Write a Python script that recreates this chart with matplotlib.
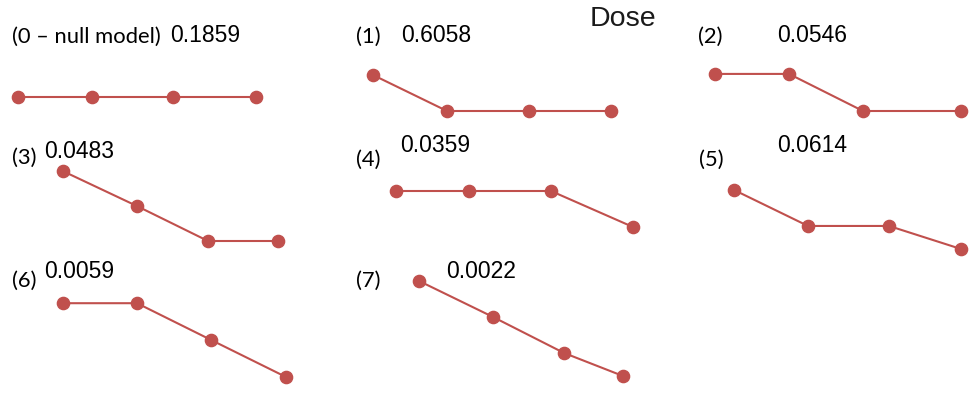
import matplotlib
matplotlib.use("Agg")
import matplotlib.pyplot as plt

# ---- data ----
model_labels = ["(0 – null model)", "(1)", "(2)", "(3)", "(4)", "(5)", "(6)", "(7)"]
model_probs = ["0.1859", "0.6058", "0.0546", "0.0483", "0.0359", "0.0614", "0.0059", "0.0022"]
# relative dose positions of the four dose groups in each panel
dose_x = [
    [0, 74, 155, 238],
    [0, 74, 156, 238],
    [0, 74, 148, 246],
    [0, 74, 145, 215],
    [0, 73, 155, 237],
    [0, 74, 155, 227],
    [0, 74, 148, 223],
    [0, 74, 145, 204],
]
# response level (height above the lowest level) for each dose group
response = [
    [0, 0, 0, 0],
    [1, 0, 0, 0],
    [1.03, 1.03, 0, 0],
    [1.94, 0.97, 0, 0],
    [1, 1, 1, 0],
    [1.64, 0.64, 0.64, 0],
    [2.05, 2.05, 1.03, 0],
    [2.64, 1.64, 0.64, 0],
]
title = "Dose"

# ---- layout (pixels) ----
W, H = 972, 393
anchor_x = [18, 373, 715, 63, 396, 734, 63, 419]
base_y = [97, 111, 111, 241, 227, 249, 377, 376]
unit = 36
label_pos = [(12, 37), (356, 37), (698, 37), (12, 158), (356, 160), (699, 160), (12, 281), (356, 281)]
prob_pos = [(170, 36), (401, 35), (777, 35), (44, 151), (400, 146), (777, 146), (44, 272), (446, 272)]
red = "#C0504D"

fig = plt.figure(figsize=(W / 100, H / 100), dpi=100)
ax = fig.add_axes([0, 0, 1, 1])
ax.set_xlim(0, W)
ax.set_ylim(H, 0)
ax.axis("off")

for i in range(len(model_labels)):
    xs = [anchor_x[i] + d for d in dose_x[i]]
    ys = [base_y[i] - unit * r for r in response[i]]
    ax.plot(xs, ys, color=red, lw=1.5, marker="o", ms=8.8, mfc=red, mec=red,
            solid_capstyle="round")
    lx, ly = label_pos[i]
    ax.text(lx, ly, model_labels[i], ha="left", va="center", fontsize=15.8,
            family=["Lato", "DejaVu Sans"], color="black")
    px, py = prob_pos[i]
    ax.text(px, py, model_probs[i], ha="left", va="center", fontsize=16.5,
            family=["Liberation Sans", "DejaVu Sans"], color="black")

ax.text(590, 19, title, ha="left", va="center", fontsize=20.5,
        family=["Liberation Sans", "DejaVu Sans"], color="#1a1a1a")

fig.savefig("out.png", dpi=100)
